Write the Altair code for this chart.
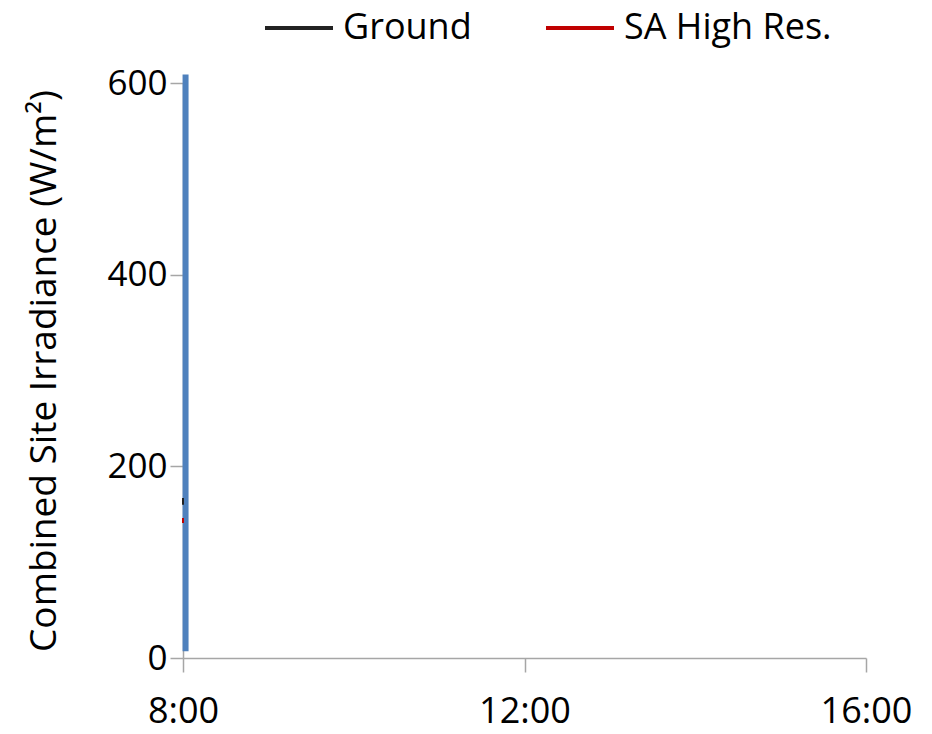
import altair as alt
import pandas as pd

# hours of day (decimal) and irradiance values (W/m2)
ground_time = [8.0, 8.0]
ground_vals = [160, 167]
sa_time = [8.0, 8.0]
sa_vals = [141, 146]
blue_time = [8.03, 8.03]
blue_vals = [7, 609]

x_ticks = [8, 12, 16]
y_ticks = [0, 200, 400, 600]

FONT = "Open Sans"

legend_df = pd.DataFrame(
    {"t": ground_time + sa_time,
     "v": ground_vals + sa_vals,
     "series": ["Ground"] * len(ground_vals) + ["SA High Res."] * len(sa_vals)}
)
blue_df = pd.DataFrame({"t": blue_time, "v": blue_vals})

x_enc = alt.X(
    "t:Q",
    scale=alt.Scale(domain=[8, 16], nice=False, zero=False),
    axis=alt.Axis(
        values=x_ticks, labelExpr="datum.value + ':00'", title=None, grid=False,
        tickSize=14, labelPadding=22, labelFontSize=36, labelFont=FONT, labelFlush=False,
        labelColor="black", domainColor="#a6a6a6", tickColor="#a6a6a6",
        domainWidth=1.5, tickWidth=1.5,
    ),
)
y_enc = alt.Y(
    "v:Q",
    scale=alt.Scale(domain=[0, 600], nice=False),
    axis=alt.Axis(
        values=y_ticks, title="Combined Site Irradiance (W/m²)", grid=False,
        tickSize=13, labelPadding=3, labelFontSize=35, labelFont=FONT, labelFlush=False,
        labelColor="black", titleFontSize=37, titleFont=FONT, titleFontWeight="normal",
        titleColor="black", titlePadding=43,
        domainColor="#a6a6a6", tickColor="#a6a6a6", domainWidth=1.5, tickWidth=1.5,
    ),
)

lines = alt.Chart(legend_df).mark_line(strokeWidth=2, clip=False).encode(
    x=x_enc,
    y=y_enc,
    color=alt.Color(
        "series:N",
        scale=alt.Scale(domain=["Ground", "SA High Res."], range=["#222222", "#c00000"]),
        legend=alt.Legend(
            title=None, orient="none", direction="horizontal", legendX=80, legendY=-91,
            symbolType="stroke", symbolSize=4624, symbolStrokeWidth=4,
            labelFontSize=36, labelFont=FONT, labelColor="black", labelLimit=400,
            columnPadding=66, labelOffset=8,
        ),
    ),
    detail="series:N",
)

blue = alt.Chart(blue_df).mark_line(strokeWidth=6, color="#4f81bd", clip=False).encode(
    x="t:Q", y="v:Q"
)

chart = alt.layer(blue, lines).properties(
    width=683, height=575,
    autosize=alt.AutoSizeParams(type="none"),
    padding={"left": 175, "top": 75, "right": 50, "bottom": 80},
).configure_view(stroke=None)

chart.save("out.html", embed_options={"renderer": "svg", "actions": False})
